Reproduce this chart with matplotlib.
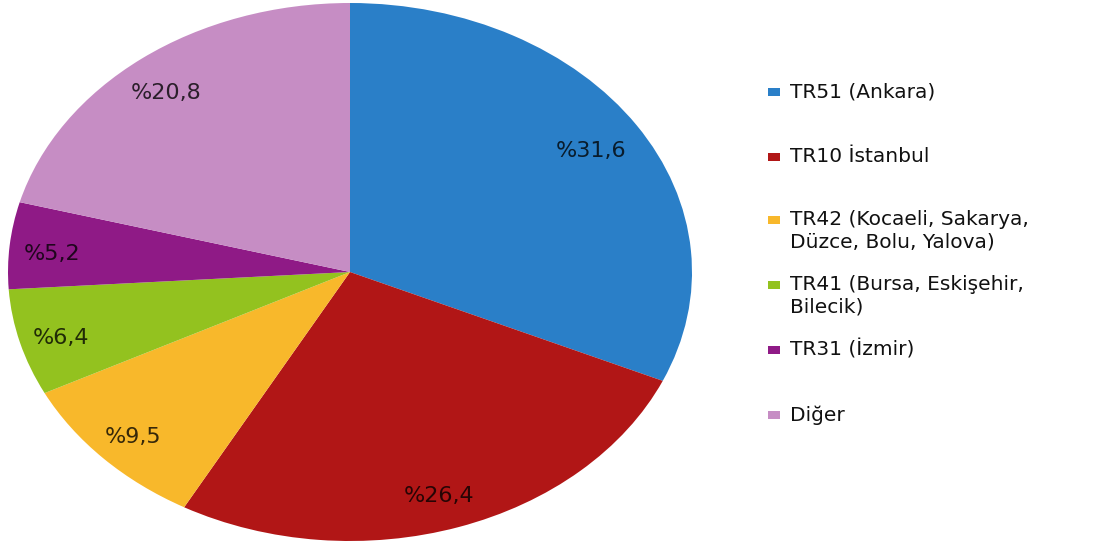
import numpy as np
import matplotlib.pyplot as plt
import matplotlib.transforms as mtransforms
from matplotlib.patches import Rectangle

# veriler
labels = ['TR51 (Ankara)', 'TR10 İstanbul',
          'TR42 (Kocaeli, Sakarya,\nDüzce, Bolu, Yalova)',
          'TR41 (Bursa, Eskişehir,\nBilecik)', 'TR31 (İzmir)', 'Diğer']
values = [31.6, 26.4, 9.5, 6.4, 5.2, 20.8]
pct_text = ['%31,6', '%26,4', '%9,5', '%6,4', '%5,2', '%20,8']
colors = ['#2a7fc8', '#b11616', '#f8b82b', '#93c21f', '#8f1a86', '#c68dc4']

W, H = 1104, 544
fig = plt.figure(figsize=(W / 100, H / 100), dpi=100)

# pasta grafiği (yatay elips)
ax = fig.add_axes([8 / W, 3 / H, 684 / W, 538 / H])
wedges, texts = ax.pie(values, colors=colors, startangle=90, counterclock=False,
                       wedgeprops=dict(linewidth=0))
ax.set_aspect('auto')
ax.set_xlim(-1, 1)
ax.set_ylim(-1, 1)
ax.axis('off')

# yüzde etiketleri (biraz sola ve aşağı kaydırılmış)
shift = mtransforms.ScaledTranslation(-5 / 100, -5 / 100, fig.dpi_scale_trans)
cum = np.cumsum([0] + values[:-1])
total = sum(values)
for v, c, t in zip(values, cum, pct_text):
    ang = np.deg2rad(90 - (c + v / 2) / total * 360)
    r = 0.86
    ax.text(r * np.cos(ang), r * np.sin(ang), t, ha='center', va='center',
            fontsize=16, color='black', alpha=0.78, family='DejaVu Sans',
            transform=ax.transData + shift)

# lejant
leg_y = [92, 157, 231, 296, 350, 415]
for lab, col, y in zip(labels, colors, leg_y):
    n = lab.count('\n') + 1
    first = y - (n - 1) * 11
    fig.patches.append(Rectangle((768 / W, 1 - (first + 4) / H), 12 / W, 8 / H,
                                 transform=fig.transFigure, facecolor=col,
                                 edgecolor='none'))
    fig.text(790 / W, 1 - y / H, lab, ha='left', va='center', fontsize=14.5,
             family='DejaVu Sans', color='#111111', linespacing=1.25)

fig.savefig('out.png', dpi=100)
